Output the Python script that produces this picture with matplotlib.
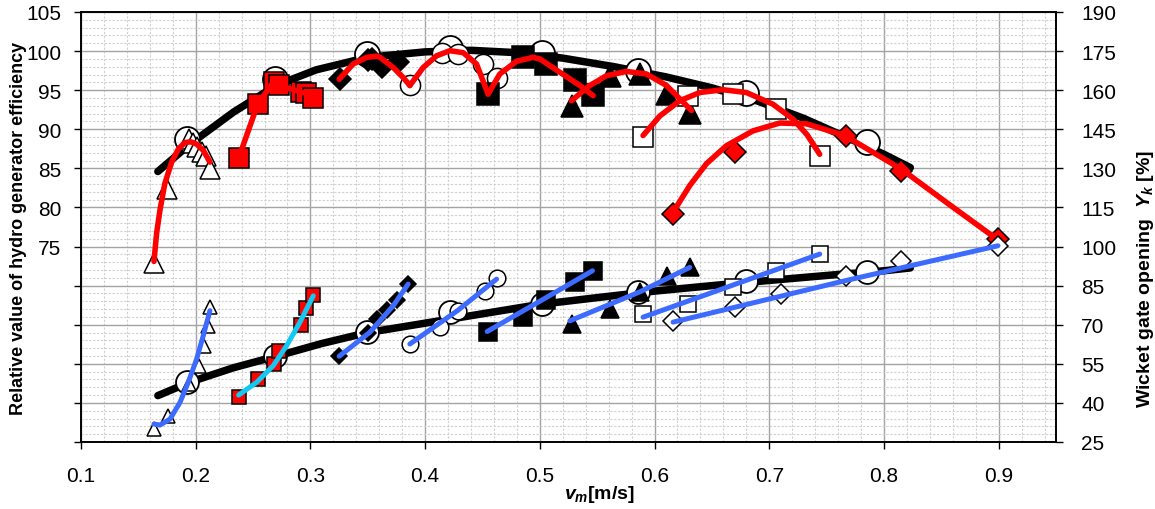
"""Hydro generator efficiency and wicket gate opening versus v_m."""

import matplotlib

matplotlib.use("Agg")
import matplotlib.pyplot as plt
from matplotlib.ticker import FixedLocator, FuncFormatter, MultipleLocator

# ---- data ------------------------------------------------------------------
# envelope (large open circles + thick black line)
env_x = [0.1927, 0.269, 0.349, 0.4216, 0.502, 0.5857, 0.68, 0.785]
env_eff = [88.8, 96.4, 99.6, 100.4, 99.8, 97.5, 94.7, 88.4]
env_gate = [47.9, 57.9, 67.1, 74.8, 77.9, 82.4, 86.9, 90.1]
env_line_x = [0.167, 0.195, 0.233, 0.27, 0.305, 0.35, 0.40, 0.44, 0.48, 0.52,
              0.565, 0.61, 0.65, 0.69, 0.73, 0.77, 0.80, 0.823]
env_line_eff = [84.6, 88.1, 92.2, 95.6, 97.6, 99.2, 99.9, 100.1, 99.8, 99.1,
                98.0, 96.7, 95.3, 93.6, 91.4, 88.8, 86.8, 85.1]
env_gate_line_x = [0.167, 0.195, 0.233, 0.271, 0.31, 0.35, 0.40, 0.45, 0.50,
                   0.55, 0.60, 0.65, 0.70, 0.75, 0.80, 0.823]
env_gate_line = [42.8, 48.0, 53.5, 58.0, 62.8, 67.0, 70.6, 74.2, 77.8,
                 80.4, 82.9, 85.0, 87.0, 88.9, 90.7, 91.8]

# series 1: open triangles
s1_x_eff = [0.1636, 0.1752, 0.1944, 0.1979, 0.2014, 0.2052, 0.2089, 0.2124]
s1_eff = [72.9, 82.4, 88.8, 88.3, 87.7, 87.1, 86.6, 84.9]
s1_x_gate = [0.1636, 0.1761, 0.1944, 0.2031, 0.2072, 0.211, 0.2124]
s1_gate = [30.0, 35.1, 47.3, 54.3, 62.0, 69.6, 76.7]
s1_fit_x = [0.1636, 0.166, 0.169, 0.173, 0.179, 0.185, 0.1906, 0.1955, 0.2008, 0.2066, 0.2124]
s1_fit_eff = [73.1, 76.8, 79.8, 83.0, 85.8, 87.5, 88.3, 88.4, 88.1, 87.3, 85.8]
s1_fit_gx = [0.1636, 0.1688, 0.1776, 0.1863, 0.1935, 0.2008, 0.2066, 0.2124]
s1_fit_gate = [31.9, 31.5, 33.8, 40.2, 47.9, 56.8, 65.8, 75.4]

# series 2: red squares
s2_x = [0.2374, 0.254, 0.268, 0.2725, 0.2915, 0.2962, 0.3025]
s2_eff = [86.3, 93.2, 96.1, 95.6, 94.8, 94.6, 94.0]
s2_gate = [42.4, 49.2, 54.9, 60.0, 69.9, 76.4, 81.4]
s2_fit_gx = [0.2374, 0.2531, 0.2676, 0.2793, 0.2908, 0.3025]
s2_fit_gate = [43.0, 47.9, 54.3, 62.0, 70.9, 81.1]

# series 3: black diamonds
s3_x_eff = [0.3255, 0.3504, 0.3533, 0.362, 0.3765]
s3_eff = [96.4, 98.8, 99.0, 98.0, 98.6]
s3_x_gate = [0.3251, 0.3505, 0.3577, 0.3664, 0.3751, 0.3852]
s3_gate = [57.9, 67.0, 72.2, 75.5, 79.5, 85.6]
s3_fit_x = [0.3251, 0.3373, 0.349, 0.3577, 0.3606, 0.3722, 0.381, 0.3867]
s3_fit_eff = [96.4, 98.35, 99.2, 99.35, 99.2, 97.9, 96.6, 95.6]
s3_fit_gx = [0.3251, 0.3518, 0.3722, 0.3852]
s3_fit_gate = [57.9, 67.1, 77.3, 85.6]

# series 4: medium open circles
s4_x_eff = [0.3867, 0.4143, 0.4288, 0.4506, 0.4623]
s4_eff = [95.6, 99.8, 99.6, 98.3, 96.6]
s4_x_gate = [0.3867, 0.4129, 0.4288, 0.452, 0.4623]
s4_gate = [62.6, 69.0, 75.4, 83.1, 87.8]
s4_fit_x = [0.3867, 0.3983, 0.41, 0.4216, 0.4332, 0.4448, 0.4549]
s4_fit_eff = [95.6, 97.9, 99.4, 100.05, 99.8, 98.35, 94.5]
s4_fit_gx = [0.3867, 0.4288, 0.4623]
s4_fit_gate = [62.6, 75.6, 87.5]

# series 5: black squares
s5_x = [0.4545, 0.485, 0.5058, 0.531, 0.546]
s5_eff = [94.5, 99.2, 98.4, 96.3, 94.4]
s5_gate = [67.1, 72.8, 79.5, 86.3, 90.7]
s5_fit_x = [0.4549, 0.4651, 0.4797, 0.4941, 0.5, 0.5174, 0.5349, 0.5465]
s5_fit_eff = [94.5, 97.07, 98.7, 99.2, 99.0, 97.3, 95.6, 94.3]
s5_fit_gx = [0.4541, 0.5, 0.5459]
s5_fit_gate = [67.4, 79.0, 90.7]

# series 6: black triangles
s6_x = [0.528, 0.561, 0.587, 0.611, 0.631]
s6_eff = [93.0, 96.8, 97.1, 94.5, 92.1]
s6_gate = [70.3, 76.0, 82.4, 88.8, 92.0]
s6_fit_x = [0.5276, 0.5436, 0.5581, 0.5755, 0.593, 0.6104, 0.6322]
s6_fit_eff = [93.65, 95.6, 96.85, 97.4, 97.07, 95.6, 92.4]
s6_fit_gx = [0.5262, 0.5871, 0.6307]
s6_fit_gate = [71.5, 82.6, 92.0]

# series 7: open squares
s7_x = [0.59, 0.6292, 0.6685, 0.7063, 0.744]
s7_eff = [89.0, 94.3, 94.5, 92.6, 86.6]
s7_gate = [74.1, 77.9, 84.3, 90.7, 97.1]
s7_fit_x = [0.59, 0.6046, 0.622, 0.6394, 0.6597, 0.6801, 0.7033, 0.7207, 0.733, 0.744]
s7_fit_eff = [89.2, 91.7, 93.65, 94.7, 95.06, 94.7, 93.2, 91.3, 89.3, 86.8]
s7_fit_gx = [0.59, 0.744]
s7_fit_gate = [72.9, 97.1]

# series 8: red diamonds (efficiency) / open diamonds (gate)
s8_x_eff = [0.6162, 0.6699, 0.7672, 0.8152, 0.8994]
s8_eff = [79.2, 87.05, 89.2, 84.7, 76.0]
s8_x_gate = [0.6162, 0.6699, 0.7106, 0.7672, 0.8152, 0.8994]
s8_gate = [71.5, 76.7, 81.8, 88.8, 94.6, 100.3]
s8_fit_x = [0.6162, 0.6307, 0.6453, 0.6627, 0.6859, 0.7092, 0.7324, 0.7658, 0.8152, 0.8544, 0.898]
s8_fit_eff = [79.4, 82.8, 85.6, 87.9, 89.8, 90.8, 90.7, 89.2, 84.9, 80.65, 76.0]
s8_fit_gx = [0.6162, 0.7672, 0.8994]
s8_fit_gate = [71.0, 87.0, 100.3]

x_ticks = [0.1, 0.2, 0.3, 0.4, 0.5, 0.6, 0.7, 0.8, 0.9]
eff_ticks = [50, 55, 60, 65, 70, 75, 80, 85, 90, 95, 100, 105]
gate_ticks = [25, 40, 55, 70, 85, 100, 115, 130, 145, 160, 175, 190]

RED = "#ff0000"
BLUE = "#3d6bff"
CYAN = "#14c8f0"

plt.rcParams["font.family"] = ["Liberation Sans", "DejaVu Sans"]
plt.rcParams["mathtext.fontset"] = "custom"
plt.rcParams["mathtext.rm"] = "Liberation Sans:bold"
plt.rcParams["mathtext.it"] = "Liberation Sans:bold:italic"
plt.rcParams["mathtext.bf"] = "Liberation Sans:bold"

fig = plt.figure(figsize=(11.55, 5.10), dpi=100)
ax = fig.add_axes([81 / 1155, 1 - 443 / 510, (1056 - 81) / 1155, (443 - 13) / 510])
ax2 = ax.twinx()

ax.set_xlim(0.1, 0.95)
ax.set_ylim(50, 105)
ax2.set_ylim(25, 190)

# grid
ax.set_axisbelow(True)
ax.xaxis.set_major_locator(FixedLocator(x_ticks))
ax.xaxis.set_minor_locator(MultipleLocator(0.02))
ax.yaxis.set_major_locator(FixedLocator(eff_ticks))
ax.yaxis.set_minor_locator(MultipleLocator(1))
ax.grid(which="major", color="#a3a3a3", linewidth=1.0)
ax.grid(which="minor", color="#d0d0d0", linewidth=0.8, linestyle=(0, (2, 1.5)))
ax.yaxis.set_major_formatter(FuncFormatter(lambda v, _: f"{v:g}" if v >= 75 else ""))
ax.xaxis.set_major_formatter(FuncFormatter(lambda v, _: f"{v:g}"))
ax2.yaxis.set_major_locator(FixedLocator(gate_ticks))

ax.tick_params(which="major", direction="out", length=5, width=1, labelsize=15, colors="black")
ax.tick_params(axis="x", pad=12)
ax.tick_params(axis="y", pad=9)
ax.tick_params(which="minor", length=0)
ax2.tick_params(which="major", direction="out", length=5, width=1, labelsize=15, pad=13)
for a in (ax, ax2):
    for sp in a.spines.values():
        sp.set_color("black")
        sp.set_linewidth(1.2)

line_kw = dict(solid_capstyle="round", solid_joinstyle="round")


def markers(a, x, y, marker, size, face, z=4, mew=1.1):
    a.plot(x, y, linestyle="none", marker=marker, markersize=size,
           markerfacecolor=face, markeredgecolor="black", markeredgewidth=mew, zorder=z)


# ---- efficiency (left axis) -------------------------------------------------
ax.plot(env_line_x, env_line_eff, color="black", linewidth=5.4, zorder=2, **line_kw)
markers(ax, env_x, env_eff, "o", 18, "white", z=3, mew=1.3)
markers(ax, s1_x_eff, s1_eff, "^", 15, "white")
markers(ax, s2_x, s2_eff, "s", 14.5, RED)
markers(ax, s3_x_eff, s3_eff, "D", 11, "black")
markers(ax, s4_x_eff, s4_eff, "o", 14.5, "white")
markers(ax, s5_x, s5_eff, "s", 16.5, "black")
markers(ax, s6_x, s6_eff, "^", 16.5, "black")
markers(ax, s7_x, s7_eff, "s", 15, "white")
markers(ax, s8_x_eff, s8_eff, "D", 11, RED)

ax.plot(s2_x, s2_eff, color=RED, linewidth=4.0, zorder=5, **line_kw)
for fx, fy in [(s1_fit_x, s1_fit_eff), (s3_fit_x, s3_fit_eff), (s4_fit_x, s4_fit_eff),
               (s5_fit_x, s5_fit_eff), (s6_fit_x, s6_fit_eff), (s7_fit_x, s7_fit_eff),
               (s8_fit_x, s8_fit_eff)]:
    ax.plot(fx, fy, color=RED, linewidth=4.0, zorder=5, **line_kw)

# ---- wicket gate opening (right axis) ---------------------------------------
ax2.plot(env_gate_line_x, env_gate_line, color="black", linewidth=5.4, zorder=2, **line_kw)
markers(ax2, env_x, env_gate, "o", 16.5, "white", z=3, mew=1.3)
markers(ax2, s1_x_gate, s1_gate, "^", 10, "white")
markers(ax2, s2_x, s2_gate, "s", 10, RED)
markers(ax2, s3_x_gate, s3_gate, "D", 8, "black")
markers(ax2, s4_x_gate, s4_gate, "o", 12, "white")
markers(ax2, s5_x, s5_gate, "s", 13, "black")
markers(ax2, s6_x, s6_gate, "^", 13, "black")
markers(ax2, s7_x, s7_gate, "s", 12, "white")
markers(ax2, s8_x_gate, s8_gate, "D", 10, "white")

ax2.plot(s2_fit_gx, s2_fit_gate, color=CYAN, linewidth=3.6, zorder=5, **line_kw)
for fx, fy in [(s1_fit_gx, s1_fit_gate), (s3_fit_gx, s3_fit_gate), (s4_fit_gx, s4_fit_gate),
               (s5_fit_gx, s5_fit_gate), (s6_fit_gx, s6_fit_gate), (s7_fit_gx, s7_fit_gate),
               (s8_fit_gx, s8_fit_gate)]:
    ax2.plot(fx, fy, color=BLUE, linewidth=3.6, zorder=5, **line_kw)

# ---- axis titles -------------------------------------------------------------
fig.text(19 / 1155, 1 - 228 / 510, "Relative value of hydro generator efficiency",
         rotation=90, ha="center", va="center", fontsize=13, fontweight="bold")
fig.text(1145 / 1155, 1 - 279 / 510, r"Wicket gate opening  $Y_k$ [%]",
         rotation=90, ha="center", va="center", fontsize=14, fontweight="bold")
fig.text(599 / 1155, 1 - 495 / 510, r"$v_m$[m/s]",
         ha="center", va="center", fontsize=14, fontweight="bold")

fig.savefig("out.png", dpi=100)
